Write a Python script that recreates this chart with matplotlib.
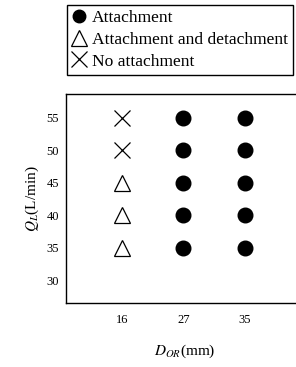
import numpy as np
import matplotlib.pyplot as plt
from matplotlib.lines import Line2D

plt.rcParams['font.family'] = ['Liberation Serif', 'DejaVu Serif']
plt.rcParams['mathtext.fontset'] = 'stix'

# datos del gráfico
diameters = ['16', '27', '35']
flow_rates = [35, 40, 45, 50, 55]
outcome_16 = ['both', 'both', 'both', 'none', 'none']
outcome_27 = ['attach', 'attach', 'attach', 'attach', 'attach']
outcome_35 = ['attach', 'attach', 'attach', 'attach', 'attach']
outcomes = [outcome_16, outcome_27, outcome_35]

styles = {
    'attach': dict(marker='o', mfc='black', mec='black', ms=10.5, mew=1),
    'both': dict(marker='^', mfc='none', mec='black', ms=12, mew=0.9),
    'none': dict(marker='x', mfc='none', mec='black', ms=12, mew=0.9),
}
labels = {'attach': 'Attachment',
          'both': 'Attachment and detachment',
          'none': 'No attachment'}

fig = plt.figure(figsize=(2.96, 3.67), dpi=100)
ax = fig.add_axes([0.223, 0.174, 0.80, 0.570])

for i, outs in enumerate(outcomes):
    for q, o in zip(flow_rates, outs):
        ax.plot(i, q, linestyle='none', **styles[o])

ax.set_xlim(-0.918, 2.95)
ax.set_ylim(26.5, 58.7)
ax.set_xticks(range(len(diameters)))
ax.set_xticklabels(diameters)
ax.set_yticks([30, 35, 40, 45, 50, 55])
ax.tick_params(length=0, labelsize=9, pad=8)
ax.tick_params(axis='y', pad=5)
ax.spines['right'].set_visible(False)
for s in ['left', 'top', 'bottom']:
    ax.spines[s].set_linewidth(1.0)

ax.set_xlabel('$D_{OR}$(mm)', fontsize=11, labelpad=12)
ax.set_ylabel('$Q_L$(L/min)', fontsize=11, labelpad=4)

# leyenda: marcadores un poco más chicos que en el gráfico
leg_styles = {
    'attach': dict(marker='o', mfc='black', mec='black', ms=9, mew=1),
    'both': dict(marker='^', mfc='none', mec='black', ms=11, mew=0.9),
    'none': dict(marker='x', mfc='none', mec='black', ms=11, mew=0.9),
}
handles = [Line2D([], [], linestyle='none', **leg_styles[k]) for k in ['attach', 'both', 'none']]
fig.legend(handles, [labels[k] for k in ['attach', 'both', 'none']],
           loc='upper left', bbox_to_anchor=(67 / 296, 1 - 5 / 367),
           frameon=True, fancybox=False, edgecolor='black', framealpha=1,
           fontsize=12.6, handlelength=0.8, handletextpad=0.3,
           borderpad=0.3, labelspacing=0.3, borderaxespad=0)

fig.savefig('out.png', dpi=100)
